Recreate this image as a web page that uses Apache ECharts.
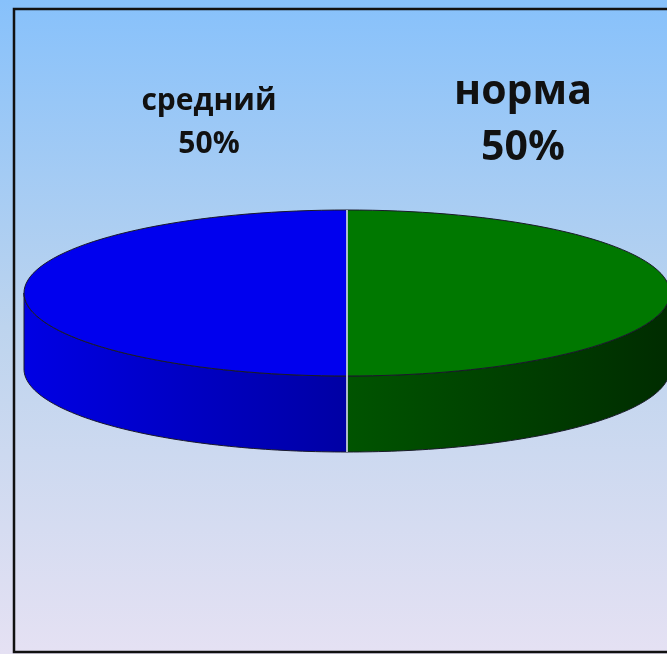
<!DOCTYPE html>
<html><head><meta charset="utf-8">
<script src="https://cdn.jsdelivr.net/npm/echarts@6/dist/echarts.min.js"></script>
<style>html,body{margin:0;padding:0}#c{width:667px;height:654px}</style>
</head><body><div id="c"></div>
<script>
const categories = ['норма', 'средний'];
const values = [50, 50];
const topColors = ['#007800', '#0000ee'];
const sideColorsA = ['#005400', '#0000e4'];
const sideColorsB = ['#002c00', '#0000a4'];

const chart = echarts.init(document.getElementById('c'));
const total = values.reduce((a, b) => a + b, 0);
const cum = [];
let acc = 0;
values.forEach(v => { cum.push(acc); acc += v; });

const CX = 347, CY = 293, RX = 323, RY = 83, DEPTH = 76;

function pt(t, dy) { return [CX + RX * Math.cos(t), CY + RY * Math.sin(t) + (dy || 0)]; }

function renderItem(params, api) {
  const i = params.dataIndex;
  const t1 = -Math.PI / 2 + cum[i] / total * 2 * Math.PI;
  const t2 = -Math.PI / 2 + (cum[i] + values[i]) / total * 2 * Math.PI;
  const children = [];
  const s1 = Math.max(t1, 0), s2 = Math.min(t2, Math.PI);
  const n = 80;
  if (s2 > s1) {
    const pts = [];
    for (let k = 0; k <= n; k++) pts.push(pt(s1 + (s2 - s1) * k / n, 0));
    for (let k = n; k >= 0; k--) pts.push(pt(s1 + (s2 - s1) * k / n, DEPTH));
    children.push({
      type: 'polygon', shape: { points: pts },
      style: {
        fill: new echarts.graphic.LinearGradient(0, 0, 1, 0,
          [{ offset: 0, color: sideColorsA[i] }, { offset: 1, color: sideColorsB[i] }]),
        stroke: '#1a1a2a', lineWidth: 1
      }
    });
  }
  const tp = [[CX, CY]];
  for (let k = 0; k <= n; k++) tp.push(pt(t1 + (t2 - t1) * k / n, 0));
  children.push({
    type: 'polygon', shape: { points: tp },
    style: { fill: topColors[i], stroke: '#1a1a2a', lineWidth: 1 }
  });
  return { type: 'group', children: children };
}

function pct(i) { return Math.round(values[i] / total * 100) + '%'; }

function txt(s, x, y, size) {
  return { type: 'text', x: x, y: y, z: 100, silent: true,
    style: { text: s, align: 'center', verticalAlign: 'middle', font: 'bold ' + size + 'px "Open Sans"', fill: '#111' } };
}

chart.setOption({
  backgroundColor: new echarts.graphic.LinearGradient(0, 0, 0, 1, [
    { offset: 0, color: '#87c1fb' }, { offset: 0.5, color: '#bdd4ee' }, { offset: 1, color: '#e5e1f3' }
  ]),
  animation: false,
  series: [{
    type: 'custom', coordinateSystem: 'none', renderItem: renderItem,
    data: values.map((v, i) => ({ name: categories[i], value: v }))
  }],
  graphic: [
    { type: 'rect', shape: { x: 14, y: 9, width: 700, height: 643 }, style: { fill: null, stroke: '#111', lineWidth: 2.5 }, silent: true },
    { type: 'line', shape: { x1: CX, y1: CY - RY, x2: CX, y2: CY + RY + DEPTH }, style: { stroke: '#d8e2ec', lineWidth: 1.6 }, z: 100 },
    txt(categories[0], 523, 92, 41),
    txt(pct(0), 523, 148, 41),
    txt(categories[1], 209, 101, 30),
    txt(pct(1), 209, 144, 30)
  ]
});
</script></body></html>
